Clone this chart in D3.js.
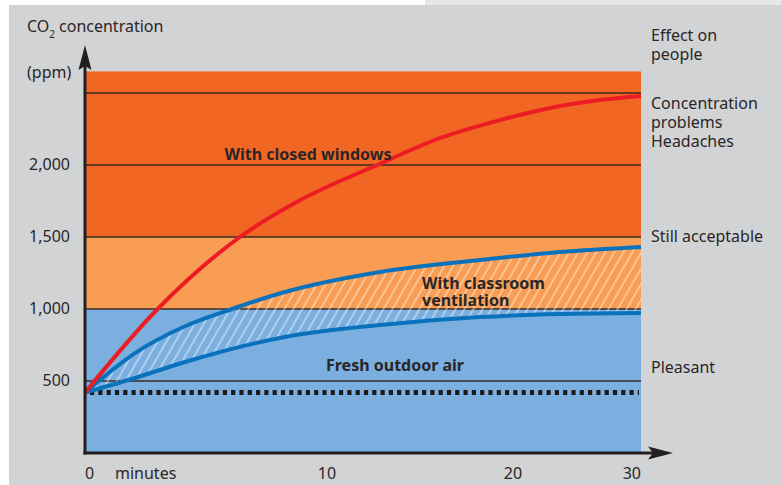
<!DOCTYPE html>
<html>
<head>
<meta charset="utf-8">
<script src="https://cdn.jsdelivr.net/npm/d3@7"></script>
<style>
  html, body { margin: 0; padding: 0; background: #ffffff; }
  svg { display: block; }
  text { font-family: "Noto Sans", "Open Sans", sans-serif; fill: #2a2627; }
</style>
</head>
<body>
<svg id="chart" width="781" height="485"></svg>
<script>
// ---------------- DATA ----------------
const xTicks = [0, 10, 20, 30];                 // minutes
const yTicks = [500, 1000, 1500, 2000];         // ppm labels
const gridLevels = [500, 1000, 1500, 2000, 2500];
const bandFrom = [0, 1000, 1500];
const bandTo   = [1000, 1500, 2650];
const bandColors = ["#7aafdf", "#f89d53", "#f26624"];
const outdoorLevel = 420;

// with closed windows (red)
const closedT   = [0, 3.0, 6.4, 8.9, 12.7, 16.1, 19.3, 22.9, 26.8, 30];
const closedPpm = [420, 1000, 1500, 1757, 2000, 2188, 2312, 2396, 2451, 2479];
// classroom ventilation, upper bound (blue)
const ventHiT   = [0, 2.07, 4.13, 6.07, 8.26, 12.85, 18.23, 23.67, 30];
const ventHiPpm = [420, 694, 880, 1000, 1118, 1257, 1340, 1396, 1431];
// classroom ventilation, lower bound (blue)
const ventLoT   = [0, 2.07, 4.13, 8.26, 12.85, 18.23, 23.67, 30];
const ventLoPpm = [420, 521, 632, 806, 889, 944, 965, 972];

const effectLabels = [
  { lines: ["Effect on", "people"], y: 41 },
  { lines: ["Concentration", "problems", "Headaches"], y: 109 },
  { lines: ["Still acceptable"], y: 242 },
  { lines: ["Pleasant"], y: 373 }
];

// ---------------- LAYOUT ----------------
const svg = d3.select("#chart");
const x = d3.scaleLinear().domain(xTicks).range([85, 327, 513, 641]);
const y = d3.scaleLinear().domain([0, 2500]).range([453, 93]);
const x0 = x(0), x1 = x(30);

// backgrounds
svg.append("rect").attr("x", 0).attr("y", 0).attr("width", 781).attr("height", 485).attr("fill", "#ffffff");
svg.append("rect").attr("x", 425).attr("y", 0).attr("width", 356).attr("height", 6).attr("fill", "#e6e7e9");
svg.append("rect").attr("x", 9).attr("y", 5).attr("width", 772).attr("height", 480).attr("fill", "#d2d3d5");

// pattern for hatch
const defs = svg.append("defs");
const pat = defs.append("pattern")
  .attr("id", "hatch").attr("patternUnits", "userSpaceOnUse")
  .attr("width", 7.8).attr("height", 7.8)
  .attr("patternTransform", "rotate(30)");
pat.append("line").attr("x1", 3).attr("y1", 0).attr("x2", 3).attr("y2", 7.8)
  .attr("stroke", "#ffffff").attr("stroke-opacity", 0.6).attr("stroke-width", 1.3);

// bands
svg.append("g").selectAll("rect").data(bandFrom).join("rect")
  .attr("x", x0).attr("width", x1 - x0)
  .attr("y", (d, i) => y(bandTo[i]))
  .attr("height", (d, i) => y(d) - y(bandTo[i]))
  .attr("fill", (d, i) => bandColors[i]);

// grid lines
svg.append("g").selectAll("line").data(gridLevels).join("line")
  .attr("x1", x0).attr("x2", x1)
  .attr("y1", d => y(d)).attr("y2", d => y(d))
  .attr("stroke", "#3a2c24").attr("stroke-width", 1.4);

// outdoor dotted line
svg.append("line")
  .attr("x1", x0 + 5).attr("x2", x1 - 2)
  .attr("y1", y(outdoorLevel)).attr("y2", y(outdoorLevel))
  .attr("stroke", "#1e1a1b").attr("stroke-width", 5)
  .attr("stroke-dasharray", "4.2,4.1");

// hatched area
const hiPts = ventHiT.map((t, i) => [t, ventHiPpm[i]]);
const loPts = ventLoT.map((t, i) => [t, ventLoPpm[i]]);
const lineGen = d3.line().x(d => x(d[0])).y(d => y(d[1])).curve(d3.curveMonotoneX);
const hiPath = lineGen(hiPts);
const loRev = d3.line().x(d => x(d[0])).y(d => y(d[1])).curve(d3.curveMonotoneX)(loPts);
// build the closed region: upper curve forward, then lower curve reversed
const loRevPts = loPts.slice().reverse();
const areaPath = hiPath + "L" + loRevPts.map(d => x(d[0]) + "," + y(d[1])).join("L") + "Z";
// use a proper area with monotone on both edges
const tAll = Array.from(new Set(ventHiT.concat(ventLoT))).sort((a, b) => a - b);
svg.append("clipPath").attr("id", "hiClip").append("path")
  .attr("d", d3.area().x(d => x(d[0])).y0(y(0)).y1(d => y(d[1])).curve(d3.curveMonotoneX)(hiPts));
svg.append("g").attr("clip-path", "url(#hiClip)")
  .append("path")
  .attr("d", d3.area().x(d => x(d[0])).y0(y(2650)).y1(d => y(d[1])).curve(d3.curveMonotoneX)(loPts))
  .attr("fill", "url(#hatch)");

// curves
svg.append("path").attr("d", lineGen(loPts)).attr("fill", "none")
  .attr("stroke", "#0a72bd").attr("stroke-width", 4);
svg.append("path").attr("d", hiPath).attr("fill", "none")
  .attr("stroke", "#0a72bd").attr("stroke-width", 4);
svg.append("path").attr("d", lineGen(closedT.map((t, i) => [t, closedPpm[i]]))).attr("fill", "none")
  .attr("stroke", "#ed1c24").attr("stroke-width", 4);

// axes
const axisColor = "#231f20";
svg.append("line").attr("x1", x0).attr("x2", x0).attr("y1", y(0) + 1.5).attr("y2", 60)
  .attr("stroke", axisColor).attr("stroke-width", 3);
svg.append("path").attr("d", `M${x0},45 L${x0 + 6.5},70 L${x0},66 L${x0 - 6.5},70 Z`).attr("fill", axisColor);
svg.append("line").attr("x1", x0 - 1.5).attr("x2", 660).attr("y1", y(0)).attr("y2", y(0))
  .attr("stroke", axisColor).attr("stroke-width", 3);
svg.append("path").attr("d", `M673,${y(0)} L648,${y(0) - 6.5} L653,${y(0)} L648,${y(0) + 6.5} Z`).attr("fill", axisColor);

// y tick labels
const fmt = d3.format(",");
svg.append("g").selectAll("text").data(yTicks).join("text")
  .attr("x", 70).attr("y", d => y(d) + 5)
  .attr("text-anchor", "end").attr("font-size", 16)
  .text(d => fmt(d));

// x tick labels
svg.append("g").selectAll("text").data(xTicks).join("text")
  .attr("x", d => x(d)).attr("y", 479)
  .attr("text-anchor", (d, i) => i === 0 ? "start" : (i === xTicks.length - 1 ? "end" : "middle"))
  .attr("font-size", 16)
  .text(d => d);
svg.append("text").attr("x", 115).attr("y", 479).attr("font-size", 16).text("minutes");

// y axis title
const t1 = svg.append("text").attr("x", 27).attr("y", 32).attr("font-size", 16);
t1.append("tspan").text("CO");
t1.append("tspan").attr("font-size", 10).attr("dy", 6).text("2");
t1.append("tspan").attr("dy", -6).attr("dx", 4).text("concentration");
svg.append("text").attr("x", 27).attr("y", 78).attr("font-size", 16).text("(ppm)");

// right-side effect labels
effectLabels.forEach(g => {
  const t = svg.append("text").attr("x", 651).attr("y", g.y).attr("font-size", 16);
  g.lines.forEach((l, i) => t.append("tspan").attr("x", 651).attr("dy", i === 0 ? 0 : 18.8).text(l));
});

// in-chart labels
svg.append("text").attr("x", 308).attr("y", 160).attr("text-anchor", "middle")
  .attr("font-size", 16).attr("font-weight", "bold").text("With closed windows");
const tv = svg.append("text").attr("x", 422).attr("y", 289).attr("font-size", 16).attr("font-weight", "bold");
tv.append("tspan").attr("x", 422).text("With classroom");
tv.append("tspan").attr("x", 422).attr("dy", 17).text("ventilation");
svg.append("text").attr("x", 395).attr("y", 371).attr("text-anchor", "middle")
  .attr("font-size", 16).attr("font-weight", "bold").text("Fresh outdoor air");
</script>
</body>
</html>
